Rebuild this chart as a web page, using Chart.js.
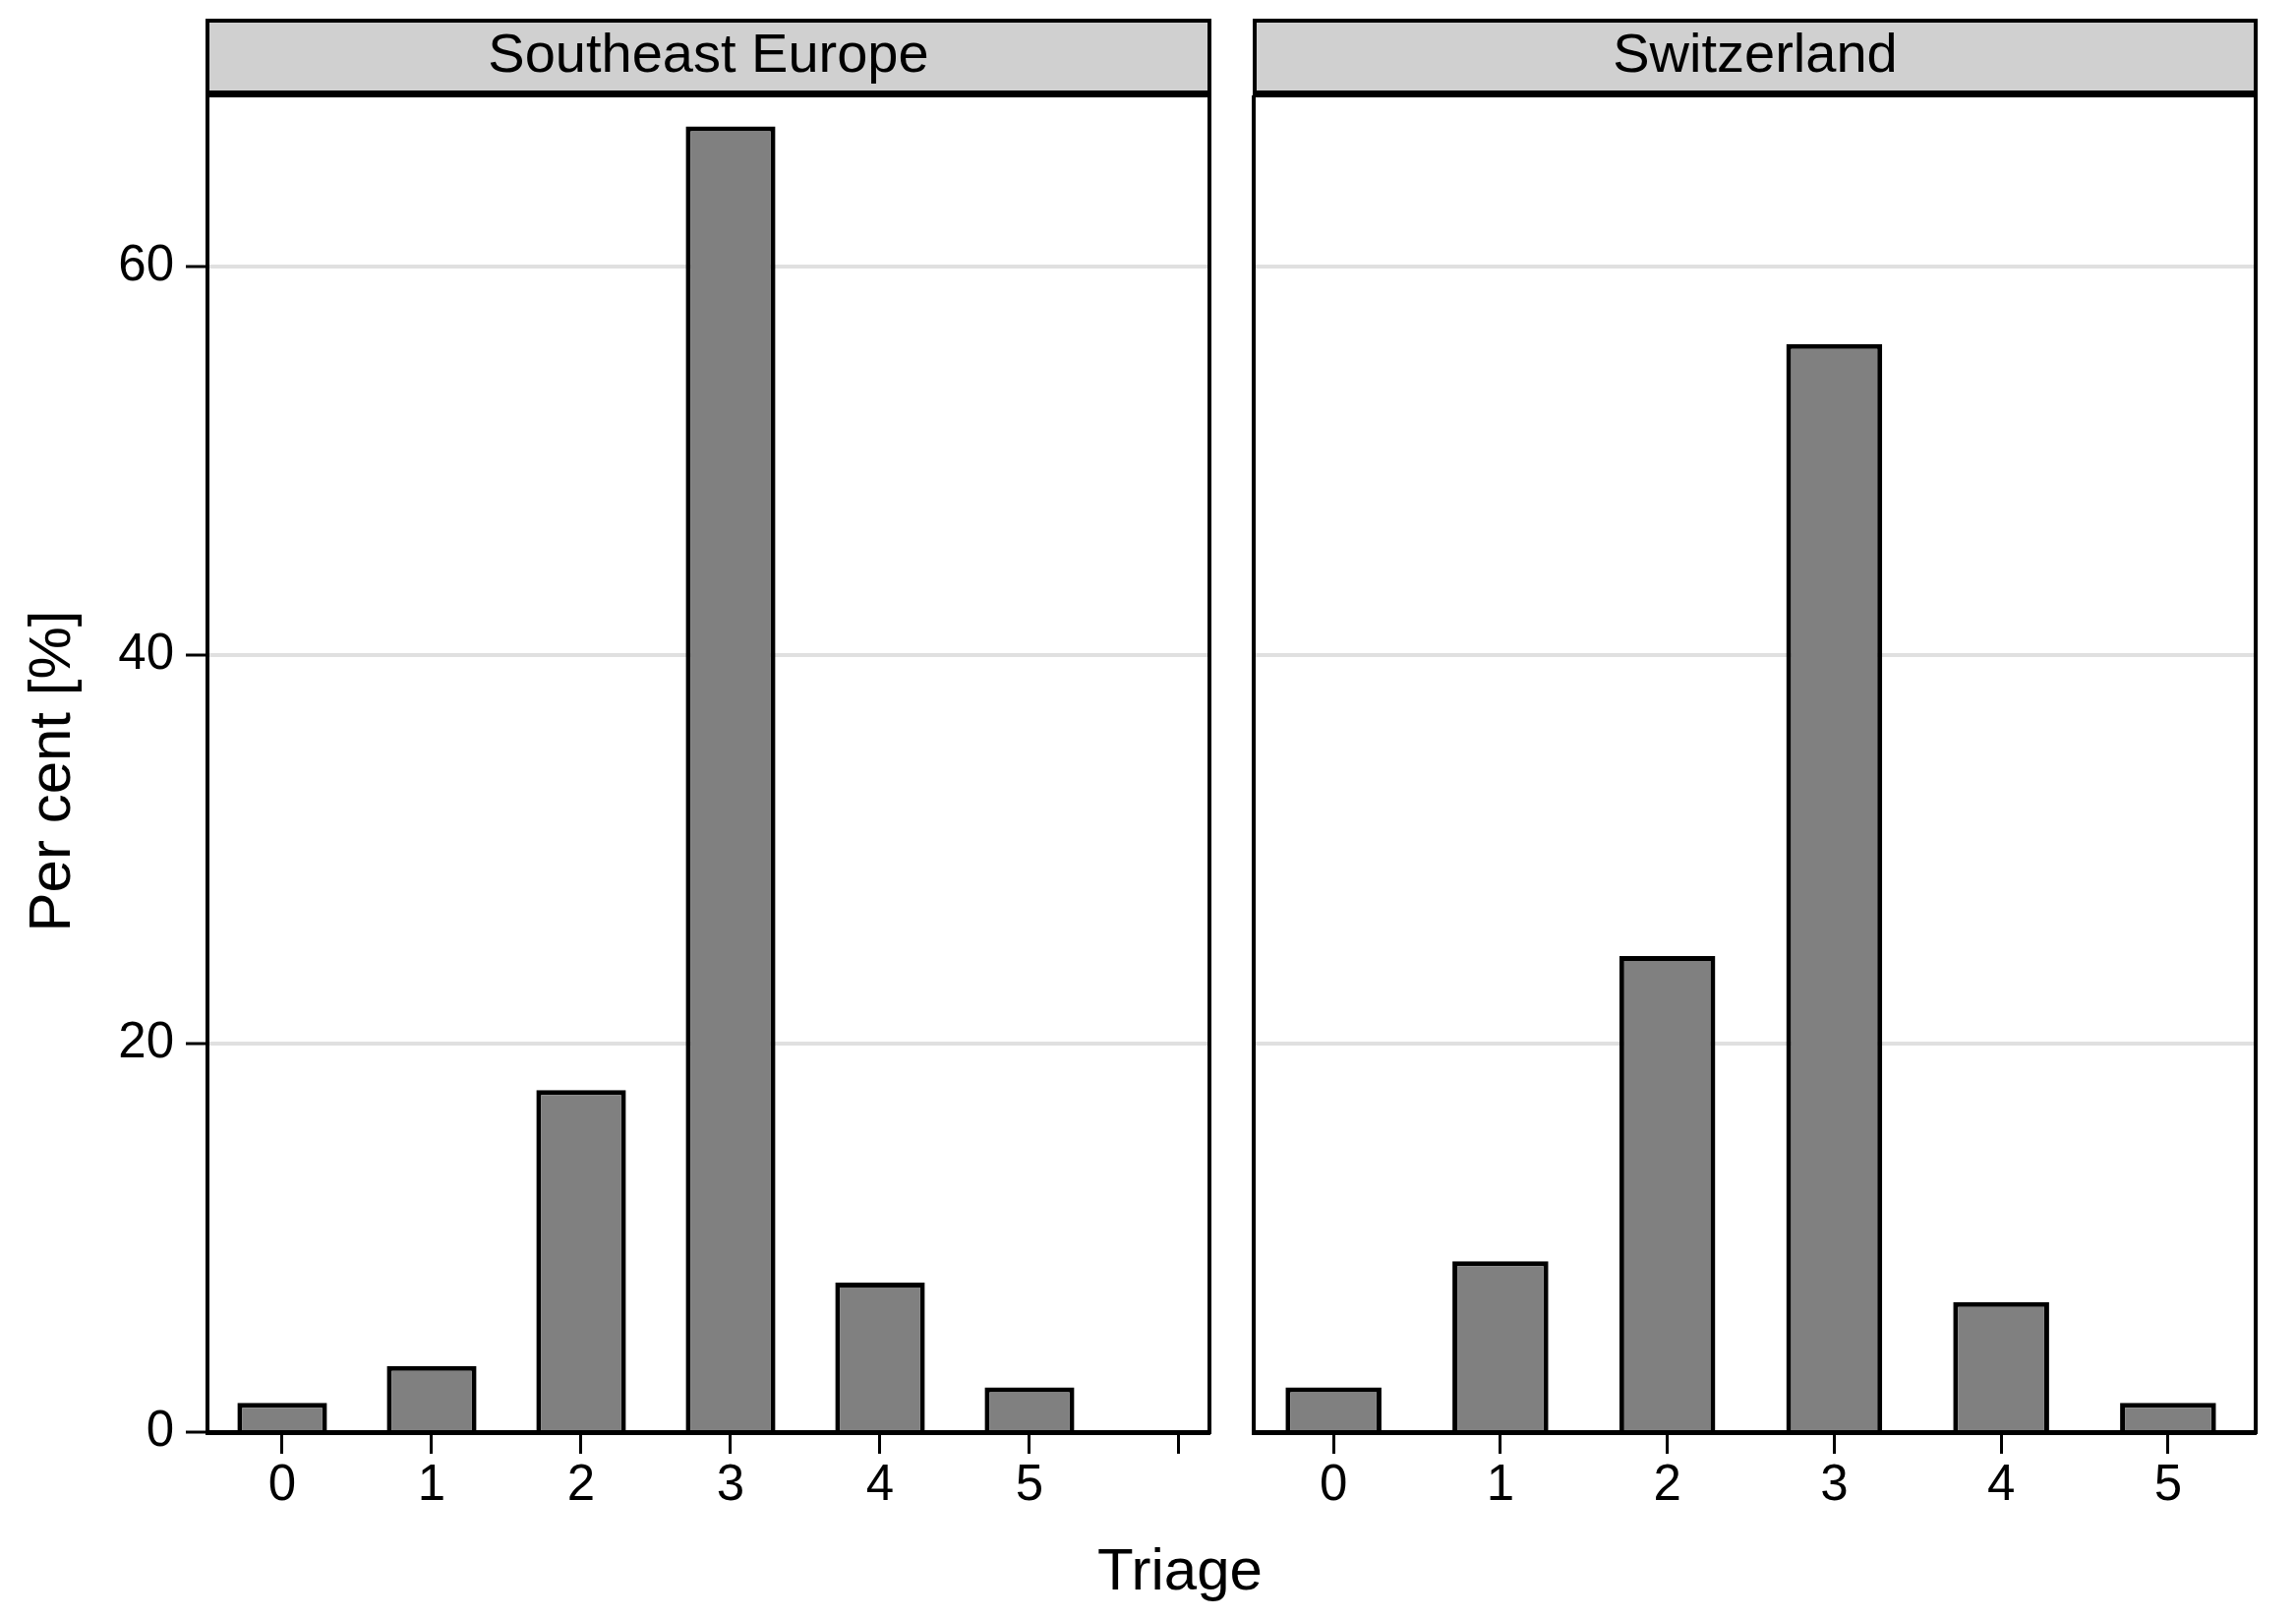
<!DOCTYPE html>
<html>
<head>
<meta charset="utf-8">
<script src="https://cdn.jsdelivr.net/npm/chart.js@4"></script>
<style>
    body { margin: 0; background: #fff; }
    #page { position: relative; width: 2335px; height: 1646px; background: #fff; font-family: "Liberation Sans", Arial, sans-serif; color: #000; }
    canvas { position: absolute; }
    .strip { position: absolute; box-sizing: border-box; top: 19px; height: 79px; background: #d0d0d0; border: 4px solid #000; border-bottom-width: 6px; text-align: center; font-size: 56px; line-height: 61px; }
    .axis-title { position: absolute; font-size: 60px; line-height: 60px; text-align: center; }
</style>
</head>
<body>
<div id="page">
    <div class="strip" style="left:209px; width:1023px;">Southeast Europe</div>
    <div class="strip" style="left:1274px; width:1022px;">Switzerland</div>
    <canvas id="chart-se" width="1160" height="1460" style="left:80px; top:97px;"></canvas>
    <canvas id="chart-ch" width="1045" height="1460" style="left:1255px; top:97px;"></canvas>
    <div class="axis-title" style="left:-249px; top:754px; width:600px; transform:rotate(-90deg);">Per cent [%]</div>
    <div class="axis-title" style="left:1000px; top:1566px; width:400px;">Triage</div>
</div>
<script>
    var triageLabels = ["0", "1", "2", "3", "4", "5"];
    var southeastEurope = [1.5, 3.4, 17.6, 67.2, 7.7, 2.3];
    var switzerland = [2.3, 8.8, 24.5, 56.0, 6.7, 1.5];
    var yTicks = [0, 20, 40, 60];

    var fontFamily = "'Liberation Sans', Arial, sans-serif";

    // frame round the plot area
    var framePlugin = {
        id: "frame",
        afterDraw: function(chart) {
            var a = chart.chartArea;
            var ctx = chart.ctx;
            ctx.save();
            ctx.strokeStyle = "#000";
            ctx.lineWidth = 4;
            ctx.strokeRect(a.left, a.top, a.right - a.left, a.bottom - a.top);
            ctx.restore();
        }
    };

    function toPoints(values) {
        return values.map(function(v, i) { return { x: i, y: v }; });
    }

    function makeChart(id, values, xMin, xMax, barPct, yWidth, showYLabels) {
        var context = document.getElementById(id);
        return new Chart(context, {
            type: "bar",
            data: {
                datasets: [
                    {
                        data: toPoints(values),
                        backgroundColor: "#808080",
                        borderColor: "#000",
                        borderWidth: 5,
                        borderSkipped: "start",
                        barPercentage: barPct,
                        categoryPercentage: 1.0
                    }
                ]
            },
            options: {
                responsive: false,
                animation: false,
                layout: { padding: { left: 0, right: id === "chart-se" ? 10 : 6, top: 0, bottom: 0 } },
                plugins: { legend: { display: false }, tooltip: { enabled: false } },
                scales: {
                    x: {
                        type: "linear",
                        min: xMin,
                        max: xMax,
                        offset: false,
                        grid: { display: true, offset: false, drawOnChartArea: false, drawTicks: true, tickLength: 22, tickColor: "#000", tickWidth: 3 },
                        border: { display: true, color: "#000", width: 5 },
                        ticks: {
                            stepSize: 1,
                            includeBounds: false,
                            autoSkip: false,
                            maxRotation: 0,
                            padding: 2,
                            color: "#000",
                            font: { family: fontFamily, size: 51 },
                            callback: function(value) {
                                return triageLabels[value] !== undefined ? triageLabels[value] : "";
                            }
                        },
                        afterFit: function(scale) {
                            scale.height = 101;
                            scale.paddingLeft = 0;
                            scale.paddingRight = 0;
                        }
                    },
                    y: {
                        min: 0,
                        max: 68.8,
                        grid: { color: "#e0e0e0", lineWidth: 4, drawTicks: showYLabels, tickLength: 22, tickColor: "#000", tickWidth: 3 },
                        border: { display: true, color: "#000", width: 4 },
                        afterBuildTicks: function(scale) {
                            scale.ticks = yTicks.map(function(v) { return { value: v }; });
                        },
                        ticks: {
                            display: showYLabels,
                            padding: 12,
                            color: "#000",
                            font: { family: fontFamily, size: 51 }
                        },
                        afterFit: function(scale) {
                            scale.width = yWidth;
                            scale.paddingTop = 0;
                            scale.paddingBottom = 0;
                        }
                    }
                }
            },
            plugins: [framePlugin]
        });
    }

    window.chartSE = makeChart("chart-se", southeastEurope, -0.5, 6.204, 0.6, 131, true);
    window.chartCH = makeChart("chart-ch", switzerland, -0.478, 5.525, 0.575, 20, false);
</script>
</body>
</html>
